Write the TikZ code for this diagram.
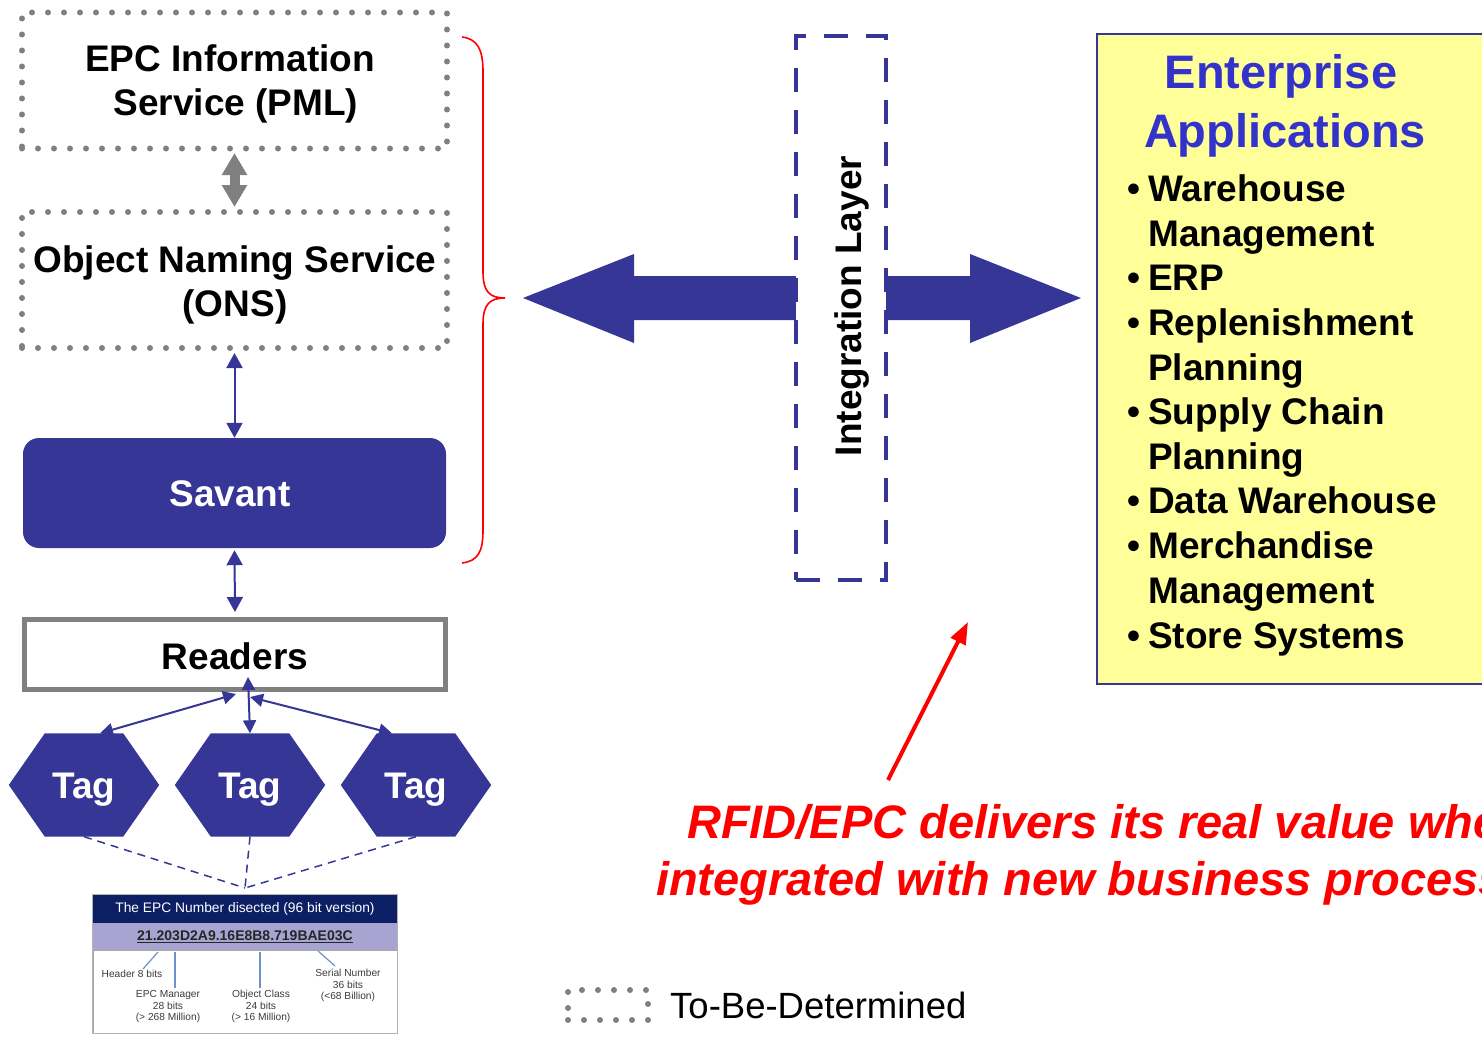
\documentclass[tikz,border=0pt]{standalone}
\usepackage{fontspec}
\setmainfont{Liberation Sans}
\usetikzlibrary{arrows.meta,backgrounds,calc}
\definecolor{bluem}{RGB}{54,54,150}
\definecolor{titleblue}{RGB}{51,51,204}
\definecolor{yel}{RGB}{255,255,153}
\definecolor{grayd}{RGB}{128,128,128}
\definecolor{navy}{RGB}{12,30,100}
\definecolor{lav}{RGB}{168,164,210}
\definecolor{lnblue}{RGB}{110,145,205}
\definecolor{lbl}{RGB}{60,60,60}
\begin{document}
\begin{tikzpicture}[x=1pt,y=-1pt,
  dotbox/.style={rectangle, draw=grayd, line width=6pt, dash pattern=on 0pt off 16pt, line cap=round, inner sep=0pt, outer sep=0pt},
  big/.style={font=\fontsize{37}{44}\selectfont\bfseries, inner sep=0pt},
  capc/.style={text height=26pt, text depth=0pt},
  sarrow/.style={draw=bluem, line width=2pt, {Triangle[length=15pt,width=16pt]}-{Triangle[length=15pt,width=16pt]}},
  tarrow/.style={draw=bluem, line width=2pt, {Triangle[length=13pt,width=13pt]}-{Triangle[length=13pt,width=13pt]}},
  tagn/.style={rectangle, minimum width=78pt, minimum height=103pt, inner sep=0pt, text=white, big, capc},
  item/.style={font=\fontsize{37}{44}\selectfont\bfseries, inner sep=0pt},
  small/.style={font=\fontsize{10.2}{11.8}\selectfont, text=lbl, inner sep=0pt, align=center},
  epcl/.style={lnblue, line width=1.2pt},
  redtxt/.style={font=\fontsize{47}{57}\selectfont\bfseries\itshape, text=red, inner sep=0pt}
]
\useasboundingbox (0,0) rectangle (1482,1038);
\clip (0,0) rectangle (1482,1038);

% left stack
\node[dotbox, minimum width=425pt, minimum height=136pt] (epc) at (234.5,80.5) {};
\node[big, anchor=base] (epc1) at (230,72) {EPC Information};
\node[big, anchor=base] (epc2) at (236,116) {Service (PML)};

\node[dotbox, minimum width=425pt, minimum height=136pt] (ons) at (234.5,280) {};
\node[big, anchor=base] (ons1) at (235,272) {Object Naming Service};
\node[big, anchor=base] (ons2) at (235,316) {(ONS)};

\draw[grayd, line width=10pt, {Triangle[length=22pt,width=24pt]}-{Triangle[length=22pt,width=24pt]}, shorten <=4.5pt, shorten >=5pt] (epc.south) -- (ons.north);

\node[fill=bluem, rounded corners=16pt, minimum width=423pt, minimum height=110pt] (sav) at (234.5,493) {};
\node[big, anchor=base, text=white] (savt) at (230,506) {Savant};
\draw[sarrow, shorten <=5pt] (ons.south) -- (sav.north);

\node[draw=grayd, line width=5pt, minimum width=421pt, minimum height=70pt, big, text height=29pt, text depth=0pt] (rd) at (235,654.5) {Readers};
\draw[sarrow, shorten <=2pt, shorten >=5pt] (sav.south) -- (rd.north);

% tags
\node[tagn] (t1) at (84,785) {Tag};
\node[tagn] (t2) at (250,785) {Tag};
\node[tagn] (t3) at (416,785) {Tag};
\begin{scope}[on background layer]
\foreach \t in {t1,t2,t3}
  \fill[bluem] (\t.north west) -- (\t.north east) -- ([xshift=36pt]\t.east) -- (\t.south east) -- (\t.south west) -- ([xshift=-36pt]\t.west) -- cycle;
\end{scope}
\coordinate (rL) at (236,694);
\coordinate (rM) at (248,677);
\coordinate (rR) at (250,697);
\draw[tarrow] (rL) -- ([xshift=16pt]t1.north);
\draw[tarrow] (rM) -- (t2.north);
\draw[tarrow] (rR) -- ([xshift=-24pt]t3.north);

\coordinate (dj) at (245,888);
\draw[bluem, line width=1.5pt, dash pattern=on 8pt off 6pt] (t1.south) -- (dj);
\draw[bluem, line width=1.5pt, dash pattern=on 8pt off 6pt] (t2.south) -- (dj);
\draw[bluem, line width=1.5pt, dash pattern=on 8pt off 6pt] (t3.south) -- (dj);

% EPC number box
\node[fill=navy, minimum width=304pt, minimum height=28pt, inner sep=0pt, text=white, font=\fontsize{13.8}{15}\selectfont] (hdr) at (245,909) {The EPC Number disected (96 bit version)};
\node[fill=lav, minimum width=304pt, minimum height=27pt, inner sep=0pt, font=\fontsize{14}{15}\selectfont\bfseries, text=black!85] (num) at (245,936.5) {\underline{21.203D2A9.16E8B8.719BAE03C}};
\node[draw=gray!70, line width=1pt, fill=white, minimum width=304pt, minimum height=83pt, inner sep=0pt] (epcb) at (245,991.5) {};
\draw[gray!60, line width=1pt] (hdr.north west) rectangle (epcb.south east);
\node[small] (lh) at (132,974) {Header 8 bits};
\node[small] (lm) at (168,1006.5) {EPC Manager\\28 bits\\(> 268 Million)};
\node[small] (lo) at (261,1006.5) {Object Class\\24 bits\\(> 16 Million)};
\node[small] (ls) at (348,985.5) {Serial Number\\36 bits\\(<68 Billion)};
\coordinate (n1) at (158,952); \coordinate (n1e) at (143,969);
\coordinate (n2) at (175,952); \coordinate (n2e) at (175,988);
\coordinate (n3) at (260,952); \coordinate (n3e) at (260,988);
\coordinate (n4) at (318,951); \coordinate (n4e) at (335,966);
\draw[epcl] (n1) -- (n1e);
\draw[epcl] (n2) -- (n2e);
\draw[epcl] (n3) -- (n3e);
\draw[epcl] (n4) -- (n4e);

% brace
\draw[red, line width=1.6pt] (462,37) .. controls (478,39) and (483,50) .. (483,72) -- (483,272) .. controls (483,292) and (490,298) .. (505,298) .. controls (490,298) and (483,304) .. (483,324) -- (483,530) .. controls (483,552) and (478,561) .. (462,563);
\coordinate (btip) at (505,298);

% enterprise box
\node[draw=bluem, line width=1.5pt, fill=yel, minimum width=420pt, minimum height=650pt, inner sep=0pt] (ent) at (1307,359) {};

% big double arrow (block shape from brace tip to enterprise box)
\fill[bluem] ($(btip)+(18,0)$) -- ++(111,-44) -- ++(0,22) -- ++(336,0) -- ++(0,-22) -- ++(111,44) -- ++(-111,45) -- ++(0,-23) -- ++(-336,0) -- ++(0,23) -- cycle;

% integration layer
\node[draw=bluem, fill=white, line width=4pt, dash pattern=on 24pt off 18pt, minimum width=90pt, minimum height=544pt, inner sep=0pt] (il) at (840.5,308) {};
\node[big, capc, rotate=90] (ilt) at (848,306) {Integration Layer};

% enterprise text
\node[font=\fontsize{47}{58}\selectfont\bfseries, text=titleblue, anchor=base, inner sep=0pt] (et1) at (1281,89) {Enterprise};
\node[font=\fontsize{47}{58}\selectfont\bfseries, text=titleblue, anchor=base, inner sep=0pt] (et2) at (1285,147) {Applications};
\foreach \y/\t/\n in {201/Warehouse/1, 246/Management/2, 290.5/ERP/3, 335.5/Replenishment/4, 380/Planning/5, 424.5/Supply Chain/6, 469/Planning/7, 513.5/Data Warehouse/8, 558.5/Merchandise/9, 603/Management/10, 648/Store Systems/11}
  \node[item, anchor=base west] (it\n) at (1148,\y) {\t};
\foreach \y/\n in {201/1, 290.5/3, 335.5/4, 424.5/6, 513.5/8, 558.5/9, 648/11}
  \node[item, anchor=base] (bu\n) at (1134,\y) {•};

% red statement
\node[redtxt, anchor=base west] (rt1) at (687,838) {RFID/EPC delivers its real value when};
\node[redtxt, anchor=base west] (rt2) at (656,895) {integrated with new business processes};
\coordinate (ra1) at (888,780);
\coordinate (ra2) at (968,622);
\draw[red, line width=4pt, -{Triangle[length=22pt,width=16pt]}] (ra1) -- (ra2);

% legend
\node[dotbox, minimum width=80pt, minimum height=30pt] (leg) at (608,1005) {};
\node[font=\fontsize{36.5}{40}\selectfont, anchor=base west, inner sep=0pt] (legt) at (670,1018) {To-Be-Determined};
\end{tikzpicture}
\end{document}
